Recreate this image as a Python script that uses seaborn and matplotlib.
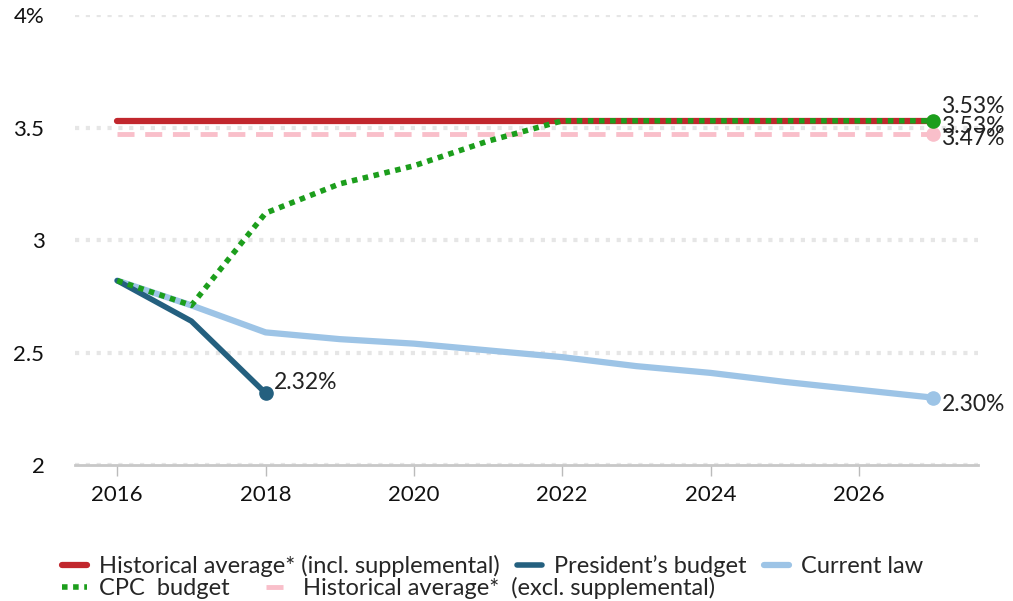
import matplotlib
matplotlib.use("Agg")
import matplotlib.pyplot as plt
import seaborn as sns
import pandas as pd

years = list(range(2016, 2028))
current_law = [2.82, 2.71, 2.59, 2.56, 2.54, 2.51, 2.48, 2.44, 2.41, 2.37, 2.335, 2.30]
president_years = [2016, 2017, 2018]
president = [2.82, 2.64, 2.32]
cpc = [2.82, 2.71, 3.12, 3.25, 3.33, 3.44, 3.53, 3.53, 3.53, 3.53, 3.53, 3.53]
hist_incl = [3.53] * 12
hist_excl = [3.47] * 12

y_ticks = [2, 2.5, 3, 3.5, 4]
y_tick_labels = ["2", "2.5", "3", "3.5", "4%"]
x_ticks = [2016, 2018, 2020, 2022, 2024, 2026]

RED = "#c1272d"
DARK = "#24607f"
LIGHT = "#9dc4e6"
GREEN = "#1c9e1c"
PINK = "#f9bfca"

sns.set_theme(style="white")
plt.rcParams["font.family"] = ["Lato", "DejaVu Sans"]

fig = plt.figure(figsize=(10.13, 6.01), dpi=100)
ax = fig.add_axes([0.074, 0.226, 0.891, 0.749])

for v in y_ticks:
    ax.axhline(v, color="#e6e6e6", lw=3, ls=(0, (1, 1.6)), zorder=0)

sns.lineplot(x=years, y=hist_excl, ax=ax, color=PINK, lw=3.5, ls=(0, (3.5, 2.2)),
             label="Historical average*  (excl. supplemental)", zorder=2)
sns.lineplot(x=years, y=hist_incl, ax=ax, color=RED, lw=4.5,
             label="Historical average* (incl. supplemental)", zorder=3)
sns.lineplot(x=president_years, y=president, ax=ax, color=DARK, lw=4,
             label="President\u2019s budget", zorder=4)
sns.lineplot(x=years, y=current_law, ax=ax, color=LIGHT, lw=4.5,
             label="Current law", zorder=3.5)
sns.lineplot(x=years, y=cpc, ax=ax, color=GREEN, lw=4, ls=(0, (1, 1)),
             label="CPC  budget", zorder=5)

# end markers
ax.scatter([years[-1]], [hist_excl[-1]], s=90, color=PINK, zorder=6)
ax.scatter([years[-1]], [cpc[-1]], s=90, color=GREEN, zorder=7)
ax.scatter([years[-1]], [current_law[-1]], s=90, color=LIGHT, zorder=6)
ax.scatter([president_years[-1]], [president[-1]], s=90, color=DARK, zorder=6)

lab_kw = dict(fontsize=16.5, color="#222222", textcoords="offset points", va="center")
ax.annotate(f"{cpc[-1]:.2f}%", (years[-1], cpc[-1]), xytext=(6, 10), **lab_kw)
ax.annotate(f"{hist_incl[-1]:.2f}%", (years[-1], hist_incl[-1]), xytext=(6, -4), **lab_kw)
ax.annotate(f"{hist_excl[-1]:.2f}%", (years[-1], hist_excl[-1]), xytext=(6, -3), **lab_kw)
ax.annotate(f"{current_law[-1]:.2f}%", (years[-1], current_law[-1]), xytext=(6, -5), **lab_kw)
ax.annotate(f"{president[-1]:.2f}%", (president_years[-1], president[-1]), xytext=(6, 8), **lab_kw)

ax.set_xlim(2015.43, 2027.6)
ax.set_ylim(2, 4)
ax.set_yticks(y_ticks)
ax.set_yticklabels(y_tick_labels)
ax.set_xticks(x_ticks)
ax.set_xticklabels([str(x) for x in x_ticks])
ax.tick_params(axis="y", length=0, labelsize=16, pad=22, labelcolor="#111111")
ax.tick_params(axis="x", length=8, width=1, color="#bbbbbb", labelsize=16, pad=6,
               direction="out", bottom=True, labelcolor="#111111")
for s in ["top", "right", "left"]:
    ax.spines[s].set_visible(False)
ax.spines["bottom"].set_color("#c8c8c8")
ax.spines["bottom"].set_linewidth(2)
ax.set_xlabel("")
ax.set_ylabel("")

handles, labels = ax.get_legend_handles_labels()
if ax.get_legend():
    ax.get_legend().remove()
h = dict(zip(labels, handles))
row1 = ["Historical average* (incl. supplemental)", "President\u2019s budget", "Current law"]
row2 = ["CPC  budget", "Historical average*  (excl. supplemental)"]
leg_kw = dict(loc="upper left", frameon=False, fontsize=17, handlelength=1.05,
              handletextpad=0.5, borderaxespad=0, borderpad=0)
leg1 = ax.legend([h[k] for k in row1], row1, bbox_to_anchor=(-0.014, -0.2), ncol=3,
                 columnspacing=0.75, **leg_kw)
ax.add_artist(leg1)
ax.legend([h[k] for k in row2], row2, bbox_to_anchor=(-0.014, -0.249), ncol=2,
          columnspacing=1.55, **leg_kw)

fig.savefig("out.png", dpi=100)
